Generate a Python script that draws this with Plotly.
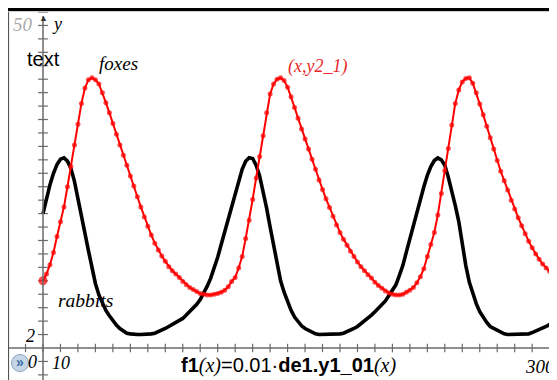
import plotly.graph_objects as go

# ---- data ----
t_vals = list(range(0, 296, 2))

foxes = [10.0, 11.0, 12.4, 14.2, 16.6, 18.8, 21.0, 24.0, 27.0, 30.2,
         33.3, 36.4, 38.7, 39.9, 40.2, 39.9, 39.3, 38.0, 36.5, 35.0,
         33.4, 31.8, 30.2, 28.7, 27.2, 25.6, 24.1, 22.5, 21.0, 19.5,
         18.1, 16.8, 15.6, 14.6, 13.7, 12.9, 12.1, 11.5, 11.0, 10.5,
         9.9, 9.4, 9.0, 8.7, 8.4, 8.1, 8.0, 7.9, 7.9, 8.0,
         8.1, 8.3, 8.6, 9.1, 9.9, 10.5, 11.9, 13.6, 16.3, 19.0,
         22.1, 25.3, 28.5, 31.6, 35.0, 37.8, 39.3, 40.0, 40.2, 39.8,
         38.8, 37.4, 35.8, 34.2, 32.6, 31.1, 29.6, 28.1, 26.6, 25.0,
         23.6, 22.2, 20.9, 19.6, 18.3, 17.2, 16.2, 15.3, 14.4, 13.6,
         12.8, 12.1, 11.5, 10.9, 10.4, 9.8, 9.3, 8.9, 8.5, 8.2,
         8.0, 7.9, 7.9, 8.0, 8.3, 8.6, 9.0, 9.7, 10.6, 11.8,
         13.6, 15.4, 17.2, 19.8, 23.0, 26.4, 29.7, 33.2, 36.4, 38.4,
         39.6, 40.1, 40.2, 39.4, 38.0, 36.3, 34.7, 33.0, 31.3, 29.6,
         27.9, 26.3, 24.9, 23.5, 22.0, 20.7, 19.4, 18.2, 17.0, 15.9,
         14.9, 14.0, 13.2, 12.5, 11.9, 11.4, 10.9, 10.4]

rabbits = [20.0, 22.3, 24.3, 26.0, 27.3, 28.1, 28.3, 27.8, 26.7, 24.8,
           22.4, 19.7, 17.1, 14.5, 12.0, 9.6, 7.9, 6.6, 5.6, 4.8,
           4.0, 3.4, 2.9, 2.5, 2.2, 2.1, 2.0, 2.0, 2.0, 2.0,
           2.0, 2.1, 2.2, 2.4, 2.6, 2.9, 3.2, 3.5, 3.8, 4.1,
           4.4, 4.9, 5.4, 5.9, 6.5, 7.2, 8.1, 9.2, 10.4, 11.8,
           13.5, 15.4, 17.3, 19.4, 21.4, 23.3, 25.0, 26.6, 27.8, 28.3,
           28.2, 27.2, 25.6, 23.3, 20.8, 18.0, 15.3, 12.6, 10.0, 8.3,
           6.9, 5.6, 4.6, 3.9, 3.3, 2.9, 2.6, 2.3, 2.1, 2.0,
           2.0, 2.0, 2.0, 2.0, 2.0, 2.1, 2.2, 2.4, 2.6, 2.9,
           3.2, 3.6, 4.0, 4.5, 4.9, 5.4, 5.9, 6.4, 7.0, 7.8,
           8.5, 9.4, 10.8, 12.3, 14.3, 16.3, 18.4, 20.4, 22.3, 24.0,
           25.7, 27.0, 27.9, 28.3, 28.0, 27.2, 25.4, 23.4, 21.2, 18.8,
           15.3, 12.3, 9.8, 8.0, 6.6, 5.4, 4.5, 3.8, 3.2, 2.9,
           2.6, 2.3, 2.1, 2.0, 2.0, 2.0, 2.0, 2.0, 2.0, 2.1,
           2.3, 2.5, 2.7, 2.9, 3.2, 3.5, 3.7, 3.9]

x_ticks = list(range(-10, 300, 10))
y_ticks = [v for v in range(-4, 51, 2) if v != 0]

# the page has an 8px body margin; all positions below are page pixels
OFF = 8
W, H = 557 - OFF, 380 - OFF
X0, XS = 43.0, 1.747      # page pixel of x=0, px per unit
Y0, YS = 348.0, 6.72      # page pixel of y=0, px per unit
xr = [(OFF - X0) / XS, (OFF + W - X0) / XS]
yr = [(Y0 - (OFF + H)) / YS, (Y0 - OFF) / YS]


def px(x):
    return (x - OFF) / W


def py(y):
    return 1 - (y - OFF) / H


AX = "#6a6a6a"
SERIF = "Liberation Serif"
SANS = "Liberation Sans"

fig = go.Figure()

# axis ticks (through the axes)
fig.add_trace(go.Scatter(x=x_ticks, y=[0] * len(x_ticks), mode="markers",
                         marker=dict(symbol="line-ns", size=6,
                                     line=dict(color=AX, width=1.2)),
                         hoverinfo="skip"))
fig.add_trace(go.Scatter(x=[0] * len(y_ticks), y=y_ticks, mode="markers",
                         marker=dict(symbol="line-ew", size=7,
                                     line=dict(color=AX, width=1.2)),
                         hoverinfo="skip"))

# rabbits
fig.add_trace(go.Scatter(x=t_vals, y=rabbits, mode="lines",
                         line=dict(color="black", width=3.6),
                         hoverinfo="skip"))
# foxes
sizes = [9] + [5] * (len(foxes) - 1)
fig.add_trace(go.Scatter(x=t_vals, y=foxes, mode="lines+markers",
                         line=dict(color="#ff0000", width=2),
                         marker=dict(color="#ff0000", size=sizes, symbol="circle",
                                     line=dict(width=0)),
                         hoverinfo="skip"))

shapes = [
    # axes lines
    dict(type="line", xref="x", yref="y", x0=xr[0], x1=xr[1], y0=0, y1=0,
         line=dict(color=AX, width=1.5)),
    dict(type="line", xref="x", yref="y", x0=0, x1=0, y0=yr[0], y1=(Y0 - 16) / YS,
         line=dict(color=AX, width=1.5)),
    # left border and top bar
    dict(type="line", xref="paper", yref="paper", x0=px(8.5), x1=px(8.5), y0=1, y1=0,
         line=dict(color="#555555", width=1.2)),
    dict(type="rect", xref="paper", yref="paper", x0=0, x1=1, y0=py(11), y1=1,
         fillcolor="black", line=dict(width=0)),
    dict(type="line", xref="paper", yref="paper", x0=0, x1=1, y0=py(11.6), y1=py(11.6),
         line=dict(color="#cccccc", width=1)),
    # icon
    dict(type="circle", xref="paper", yref="paper", x0=px(11.5), x1=px(28.5),
         y0=py(371.5), y1=py(354.5), fillcolor="#c6d6e6",
         line=dict(color="#8aa4bf", width=1)),
]

ann = []


def add(text, x, y, size, color="black", family=SERIF, xanchor="center"):
    ann.append(dict(text=text, x=px(x), y=py(y), xref="paper", yref="paper",
                    showarrow=False, xanchor=xanchor, yanchor="middle",
                    font=dict(size=size, color=color, family=family)))


# y axis arrow head
ann.append(dict(text="▲", x=0, y=(Y0 - 17) / YS, xref="x", yref="y", showarrow=False,
                font=dict(size=9, color="#333333"), yanchor="middle"))

add("<i>50</i>", 23, 25, 19, color="#aaaaaa")
add("<i>y</i>", 57, 24, 18)
add("text", 43, 59, 20, family=SANS)
add("<i>foxes</i>", 118, 64, 19)
add("<i>(x,y2_1)</i>", 317, 67, 18, color="#e8292b")
add("<i>rabbits</i>", 85, 300, 19.5)
add("<i>2</i>", 30, 336, 18)
add("<i>0</i>", 32, 362, 18)
add("<i>10</i>", 61, 363, 18)
add("<i>300</i>", 557, 366, 19, xanchor="right")
add("<i>t</i>", 557, 341, 17, xanchor="right")
add("<b>»</b>", 20, 362, 14, color="#3b6fa8", family=SANS)
add("<b>f1</b><span style='font-family:Liberation Serif'><i>(x)</i></span>=0.01·"
    "<b>de1.y1_01</b><span style='font-family:Liberation Serif'><i>(x)</i></span>",
    288, 365, 20, family=SANS)

fig.update_layout(
    width=W, height=H,
    margin=dict(l=0, r=0, t=0, b=0),
    paper_bgcolor="white", plot_bgcolor="white",
    showlegend=False,
    xaxis=dict(range=xr, visible=False, fixedrange=True),
    yaxis=dict(range=yr, visible=False, fixedrange=True),
    shapes=shapes, annotations=ann,
)

fig.write_html("out.html")
